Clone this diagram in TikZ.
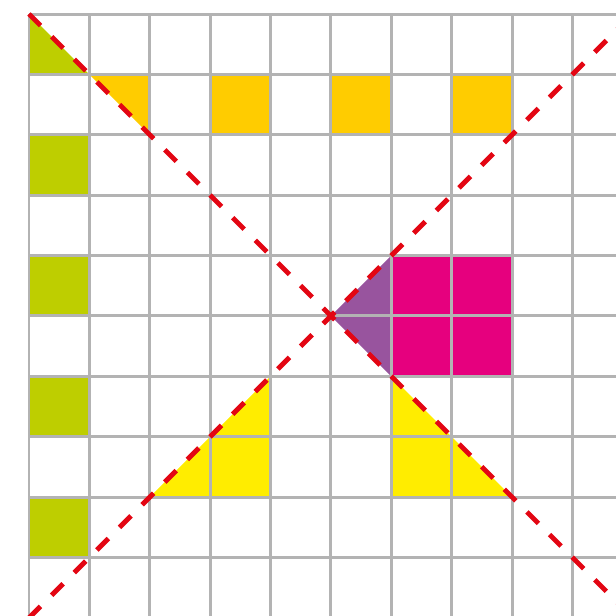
\documentclass[tikz,border=0pt]{standalone}
\usepackage{xcolor}
\usepackage{tikz}
\definecolor{gridgray}{RGB}{179,179,179}
\definecolor{leafgreen}{RGB}{190,206,0}
\definecolor{amber}{RGB}{255,204,0}
\definecolor{hotpink}{RGB}{230,0,126}
\definecolor{plum}{RGB}{152,84,158}
\definecolor{sunyellow}{RGB}{255,237,0}
\definecolor{signalred}{RGB}{227,6,19}

\begin{document}
\begin{tikzpicture}[
    gridline/.style={draw=gridgray, line width=1.4pt},
    diag/.style={draw=signalred, line width=2.3pt,
                 dash pattern=on 0.27cm off 0.26cm}
  ]
    \useasboundingbox (-0.48,0.232) rectangle (9.72,-9.968);
    \clip (-0.48,0.232) rectangle (9.72,-9.968);
    \coordinate (c) at (5,-5);

    % coloured cells
    \fill[leafgreen] (0,0) -- (0,-1) -- (1,-1) -- cycle;
    \foreach \r in {2,4,6,8}
      \fill[leafgreen] (0,-\r) rectangle (1,-\r-1);
    \fill[amber] (1,-1) -- (2,-1) -- (2,-2) -- cycle;
    \foreach \k in {3,5,7}
      \fill[amber] (\k,-1) rectangle (\k+1,-2);
    \fill[hotpink] (6,-4) rectangle (8,-6);
    \fill[plum] (c) -- (6,-4) -- (6,-6) -- cycle;
    \fill[sunyellow] (2,-8) -- (4,-6) -- (4,-8) -- cycle;
    \fill[sunyellow] (6,-6) -- (6,-8) -- (8,-8) -- cycle;

    \draw[gridline] (0,-10) grid (10,0);

    \draw[diag] (0,0) -- (c) -- (10,-10);
    \draw[diag] (0,-10) -- (c) -- (10,0);
  \end{tikzpicture}
\end{document}
